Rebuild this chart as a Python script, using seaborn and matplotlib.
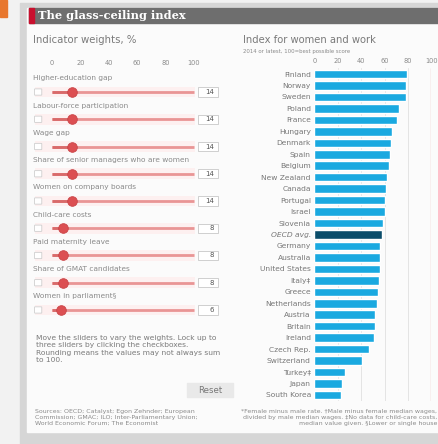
import matplotlib
matplotlib.use("Agg")
import matplotlib.pyplot as plt
from matplotlib.patches import Rectangle, FancyBboxPatch
import seaborn as sns
import pandas as pd

# ---------------- data ----------------
countries = ["Finland", "Norway", "Sweden", "Poland", "France", "Hungary", "Denmark",
             "Spain", "Belgium", "New Zealand", "Canada", "Portugal", "Israel",
             "Slovenia", "OECD avg.", "Germany", "Australia", "United States",
             "Italy‡", "Greece", "Netherlands", "Austria", "Britain", "Ireland",
             "Czech Rep.", "Switzerland", "Turkey‡", "Japan", "South Korea"]
index_values = [79, 78.5, 78.5, 72, 70.5, 66, 65.5, 64.5, 64, 62, 61.5, 60, 60,
                58.5, 58, 56, 56, 56, 55, 54.5, 53.5, 52, 51.5, 51, 46.5, 40.5,
                26.5, 24, 22.5]
indicators = ["Higher-education gap", "Labour-force participation", "Wage gap",
              "Share of senior managers who are women", "Women on company boards",
              "Child-care costs", "Paid maternity leave", "Share of GMAT candidates",
              "Women in parliament§"]
weights = [14, 14, 14, 14, 14, 8, 8, 8, 6]
axis_ticks = [0, 20, 40, 60, 80, 100]

W, H = 438, 444
def fx(px): return px / W
def fy(py): return 1 - py / H

sns.set_theme(style="white")
plt.rcParams['font.family'] = ['DejaVu Sans']

fig = plt.figure(figsize=(W / 100, H / 100), dpi=100)
fig.patch.set_facecolor("#f2f2f2")

# background frame pieces
bg = fig.add_axes([0, 0, 1, 1], zorder=-10)
bg.set_xlim(0, W); bg.set_ylim(H, 0); bg.axis("off")
bg.add_patch(Rectangle((0, 0), 7, 17, color="#e8772e"))
bg.add_patch(Rectangle((20, 3), W - 20, H - 3, color="#d6d6d6"))
bg.add_patch(Rectangle((27, 8), W - 27, 424, color="#fbfbfb"))
bg.add_patch(Rectangle((29, 8), W - 29, 15, color="#6e6e6e"))
bg.add_patch(Rectangle((29, 8), 5, 15, color="#c8102e"))
# reset button
bg.add_patch(Rectangle((187, 383), 46, 14, color="#e9e9e9"))
bg.text(210, 390.5, "Reset", ha="center", va="center", fontsize=6.2, color="#777777")

fig.text(fx(38), fy(15.5), "The glass-ceiling index", family="DejaVu Serif",
         weight="bold", color="white", fontsize=8.2, va="center")
fig.text(fx(33), fy(40), "Indicator weights, %", fontsize=7.3, color="#7a7a7a", va="center")
fig.text(fx(243), fy(40), "Index for women and work", fontsize=7.2, color="#7a7a7a", va="center")
fig.text(fx(243), fy(52), "2014 or latest, 100=best possible score", fontsize=3.9,
         color="#8a8a8a", va="center")

note = ("Move the sliders to vary the weights. Lock up to\n"
        "three sliders by clicking the checkboxes.\n"
        "Rounding means the values may not always sum\n"
        "to 100.")
fig.text(fx(36), fy(335), note, fontsize=5.4, color="#7a7a7a", va="top", linespacing=1.3)

sources = ("Sources: OECD; Catalyst; Egon Zehnder; European\n"
           "Commission; GMAC; ILO; Inter-Parliamentary Union;\n"
           "World Economic Forum; The Economist")
fig.text(fx(35), fy(409), sources, fontsize=4.5, color="#8a8a8a", va="top", linespacing=1.25)
foot = ("*Female minus male rate. †Male minus female median wages,\n"
        "divided by male median wages. ‡No data for child-care costs,\n"
        "median value given. §Lower or single house")
fig.text(fx(437), fy(409), foot, fontsize=4.5, color="#8a8a8a", va="top", ha="right",
         linespacing=1.25, multialignment="right")

# ---------------- sliders ----------------
sl = fig.add_axes([fx(30.7), fy(323.6), fx(219.6) - fx(30.7), fy(78.4) - fy(323.6)])
sl.set_xlim(-15, 118)
sl.set_ylim(len(weights) - 0.5, -0.5)
sl.axis("off")
rows = list(range(len(weights)))
for r in rows:
    sl.add_patch(Rectangle((-12, r - 0.2), 113, 0.4, color="#fdf0f0", zorder=0, lw=0))
    sl.add_patch(FancyBboxPatch((-12, r - 0.1), 4.5, 0.2, boxstyle="round,pad=0.3",
                                fc="white", ec="#cfcfcf", lw=0.6, zorder=2,
                                mutation_aspect=0.05))
    sl.add_patch(Rectangle((102.8, r - 0.17), 14.1, 0.34, fc="white", ec="#c8c8c8",
                           lw=0.6, zorder=2, clip_on=False))
sl.hlines(rows, 0, 100, color="#e99595", lw=2.0, zorder=1)
sl.hlines(rows, 0, weights, color="#d96a6a", lw=2.0, zorder=1)
df_w = pd.DataFrame({"w": weights, "row": rows})
sns.scatterplot(data=df_w, x="w", y="row", ax=sl, s=48, color="#dc4f52",
                edgecolor="#c94548", linewidth=0.6, zorder=3, legend=False)
sl.set_xlabel(""); sl.set_ylabel("")
sl.axis("off")
for r, (lab, w) in enumerate(zip(indicators, weights)):
    sl.text(-13.4, r - 0.5, lab, fontsize=5.3, color="#8a8a8a", va="center", ha="left")
    sl.text(114, r, str(w), fontsize=5.0, color="#555555", va="center", ha="right",
            zorder=4, clip_on=False)
for t in axis_ticks:
    sl.text(t, -1.05, str(t), fontsize=4.8, color="#8a8a8a", ha="center", va="center")

# ---------------- bar chart ----------------
ax = fig.add_axes([fx(314.3), fy(400.7), fx(431.3) - fx(314.3), fy(68.3) - fy(400.7)])
ax.set_facecolor("none")
colors = ["#0b4d6a" if c.startswith("OECD") else "#1aa9e0" for c in countries]
df = pd.DataFrame({"country": countries, "value": index_values})
sns.barplot(data=df, x="value", y="country", hue="country", palette=colors,
            orient="h", width=0.74, ax=ax, legend=False, saturation=1, zorder=2)
ax.set_xlim(0, 100)
ax.set_xticks(axis_ticks)
ax.xaxis.tick_top()
ax.tick_params(axis="x", length=0, pad=3, labelsize=4.8, labelcolor="#8a8a8a")
ax.tick_params(axis="y", length=0, pad=2.5, labelsize=5.4, labelcolor="#777777")
for t in [20, 40, 60, 80]:
    ax.axvline(t, color="#e4e4e4", lw=0.7, zorder=0)
ax.axvline(100, color="#e9a3a3", lw=0.9, zorder=0)
for s in ax.spines.values():
    s.set_visible(False)
ax.set_xlabel(""); ax.set_ylabel("")
for lab in ax.get_yticklabels():
    if lab.get_text().startswith("OECD"):
        lab.set_style("italic")

fig.savefig("out.png", dpi=100, facecolor=fig.get_facecolor())
